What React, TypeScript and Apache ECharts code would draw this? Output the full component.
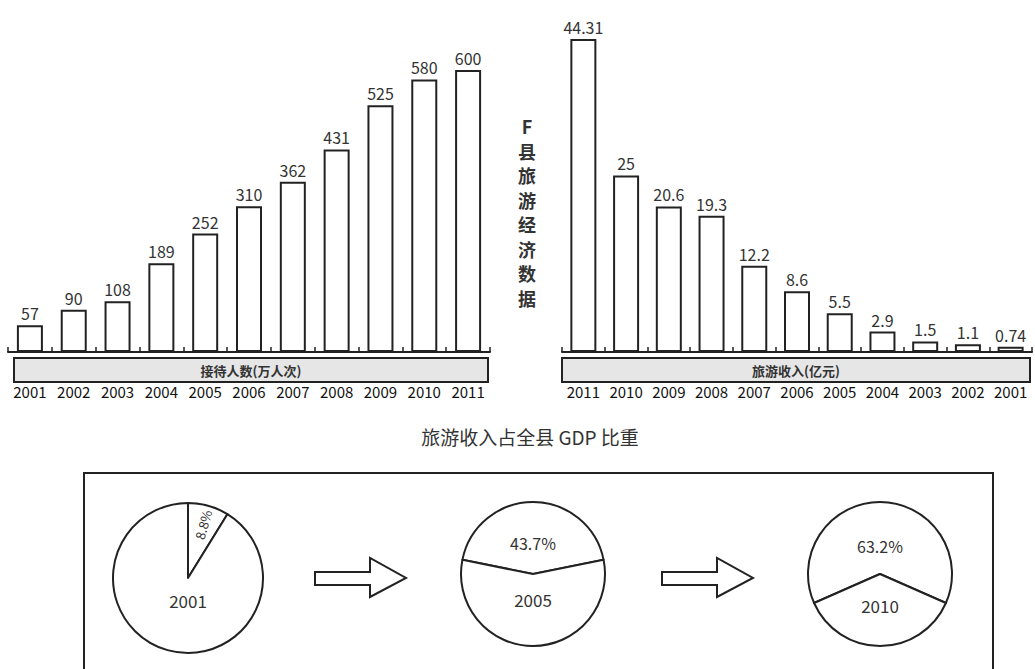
import React, { useEffect, useRef } from "react";
import * as echarts from "echarts";

const years = ["2001", "2002", "2003", "2004", "2005", "2006", "2007", "2008", "2009", "2010", "2011"];
const visitors = [57, 90, 108, 189, 252, 310, 362, 431, 525, 580, 600];
const income = [0.74, 1.1, 1.5, 2.9, 5.5, 8.6, 12.2, 19.3, 20.6, 25, 44.31];
const incomeYears = [...years].reverse();
const incomeDesc = [...income].reverse();

const pieYears = ["2001", "2005", "2010"];
const pieShares = [8.8, 43.7, 63.2];

const leftBandLabel = "接待人数(万人次)";
const rightBandLabel = "旅游收入(亿元)";
const sideTitle = "F县旅游经济数据";
const pieTitle = "旅游收入占全县 GDP 比重";

const FONT = "'Noto Sans CJK SC', 'Noto Sans', sans-serif";
const INK = "#222";
const TXT = "#333";

export default function App() {
  const ref = useRef<HTMLDivElement>(null);
  useEffect(() => {
    if (!ref.current) return;
    const chart = echarts.init(ref.current, null, { renderer: "svg" });

    const barSeries = (idx: number, data: number[]) => ({
      type: "bar",
      xAxisIndex: idx,
      yAxisIndex: idx,
      data,
      barWidth: 26,
      silent: true,
      itemStyle: { color: "#fff", borderColor: INK, borderWidth: 2 },
      label: {
        show: true,
        position: "top",
        distance: 4,
        fontSize: 16,
        color: TXT,
        fontFamily: FONT,
      },
    });

    const xAxisBase = (idx: number, data: string[]) => ({
      type: "category",
      gridIndex: idx,
      data,
      axisLine: { lineStyle: { color: INK, width: 2 } },
      axisTick: { show: true, inside: true, length: 5, lineStyle: { color: INK, width: 1.5 } },
      axisLabel: { margin: 32, fontSize: 15, color: "#111", fontFamily: FONT, interval: 0 },
    });

    const pieCenters = [
      [188, 578, 75],
      [533, 574, 72],
      [880, 574, 72],
    ];
    const pieOffsets = [
      [[0, 0], [0, 22]],
      [[0, -31], [0, 25]],
      [[0, -28], [0, 31]],
    ];

    const pieSeries = pieShares.map((share, i) => {
      const [cx, cy, r] = pieCenters[i];
      const first: any =
        i === 0
          ? {
              value: share,
              name: pieYears[i] + "a",
              label: {
                show: true,
                position: "inside",
                rotate: "radial",
                formatter: share + "%",
                fontSize: 13,
                color: TXT,
                fontFamily: FONT,
              },
            }
          : {
              value: share,
              name: pieYears[i] + "a",
              label: {
                show: true,
                position: "center",
                offset: pieOffsets[i][0],
                formatter: share + "%",
                fontSize: 16,
                color: TXT,
                fontFamily: FONT,
              },
            };
      const second = {
        value: 100 - share,
        name: pieYears[i],
        label: {
          show: true,
          position: "center",
          offset: pieOffsets[i][1],
          formatter: pieYears[i],
          fontSize: 17,
          color: TXT,
          fontFamily: FONT,
        },
      };
      return {
        type: "pie",
        silent: true,
        center: [cx, cy],
        radius: [0, r],
        startAngle: i === 0 ? 90 : 90 + share * 1.8,
        clockwise: true,
        avoidLabelOverlap: false,
        labelLine: { show: false },
        labelLayout:
          i === 0
            ? (p: any) => (p.dataIndex === 0 ? { dx: 15, dy: 0 } : {})
            : undefined,
        itemStyle: { color: "#fff", borderColor: INK, borderWidth: 2 },
        emphasis: { disabled: true },
        data: [first, second],
      };
    });

    const arrow = (x0: number) => ({
      type: "polygon",
      shape: {
        points: [
          [x0, 572],
          [x0 + 55, 572],
          [x0 + 55, 558],
          [x0 + 91, 578],
          [x0 + 55, 597],
          [x0 + 55, 585],
          [x0, 585],
        ],
      },
      style: { fill: "#fff", stroke: INK, lineWidth: 2 },
    });

    const band = (x: number, w: number, label: string) => [
      {
        type: "rect",
        shape: { x, y: 358, width: w, height: 24 },
        style: { fill: "#e6e6e6", stroke: INK, lineWidth: 2 },
      },
      {
        type: "text",
        x: x + w / 2,
        y: 370,
        style: {
          text: label,
          font: `bold 13px ${FONT}`,
          fill: TXT,
          align: "center",
          verticalAlign: "middle",
        },
      },
    ];

    chart.setOption({
      animation: false,
      backgroundColor: "#fff",
      grid: [
        { left: 8, width: 482, top: 70, bottom: 317 },
        { left: 562, width: 470, top: 39, bottom: 317 },
      ],
      xAxis: [xAxisBase(0, years), xAxisBase(1, incomeYears)],
      yAxis: [
        { type: "value", gridIndex: 0, min: 0, max: "dataMax", show: false },
        { type: "value", gridIndex: 1, min: 0, max: "dataMax", show: false },
      ],
      series: [barSeries(0, visitors), barSeries(1, incomeDesc), ...pieSeries],
      graphic: [
        ...band(14, 474, leftBandLabel),
        ...band(562, 468, rightBandLabel),
        {
          type: "text",
          x: 527,
          y: 114,
          style: {
            text: sideTitle.split("").join("\n"),
            font: `bold 18px ${FONT}`,
            lineHeight: 24.5,
            fill: "#333",
            align: "center",
            verticalAlign: "top",
          },
        },
        {
          type: "text",
          x: 530,
          y: 436,
          style: {
            text: pieTitle,
            font: `19px ${FONT}`,
            fill: TXT,
            align: "center",
            verticalAlign: "middle",
          },
        },
        {
          type: "rect",
          shape: { x: 84, y: 473, width: 909, height: 230 },
          style: { fill: "none", stroke: INK, lineWidth: 2 },
        },
        arrow(315),
        arrow(662),
      ],
    });
    return () => chart.dispose();
  }, []);
  return (
    <div
      ref={ref}
      style={{ position: "fixed", left: 0, top: 0, width: 1035, height: 669, background: "#fff" }}
    />
  );
}
